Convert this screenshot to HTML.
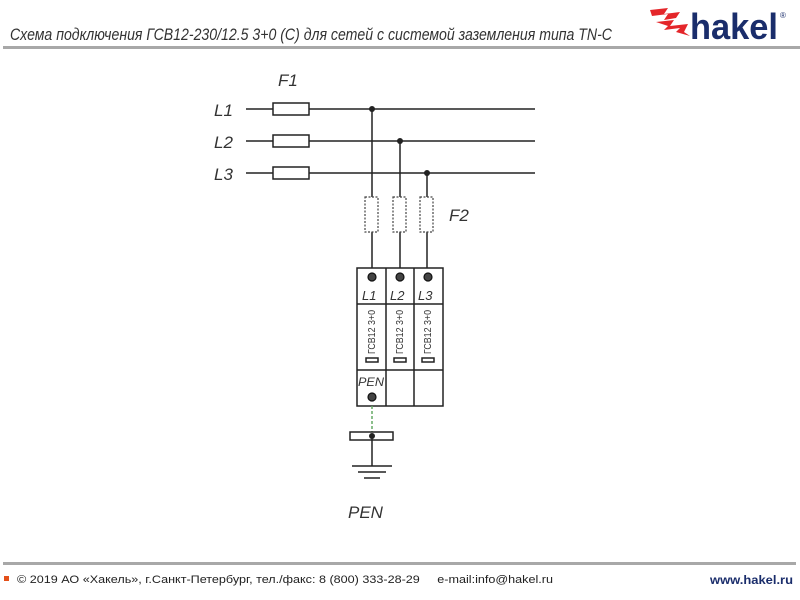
<!DOCTYPE html>
<html><head><meta charset="utf-8"><style>
html,body{margin:0;padding:0;background:#fff;}
svg{display:block;}
.t{font-family:"Liberation Sans","DejaVu Sans",sans-serif;font-style:italic;fill:#333;}
</style></head><body>
<svg width="800" height="600" viewBox="0 0 800 600" xmlns="http://www.w3.org/2000/svg">
<text class="t" x="10" y="40" font-size="17" fill="#444" textLength="602" lengthAdjust="spacingAndGlyphs">Схема подключения ГСВ12-230/12.5 3+0 (С) для сетей с системой заземления типа TN-C</text>
<rect x="3" y="46" width="797" height="3" fill="#a8a8a8"/>
<!-- logo -->
<g fill="#e4262a">
<polygon points="650,10 668,8 664,14 680,12 676,18 664,20 668,14 652,16"/>
<polygon points="656,22 674,20 670,26 688,24 684,32 690,36 676,32 680,28 664,30 668,26"/>
</g>
<text x="690" y="39" font-family="Liberation Sans,sans-serif" font-weight="bold" font-size="36" fill="#1a2d6b" textLength="88" lengthAdjust="spacingAndGlyphs">hakel</text>
<text x="780" y="18" font-family="Liberation Sans,sans-serif" font-size="8" fill="#1a2d6b">®</text>

<g stroke="#222" stroke-width="1.5" fill="none">
<line x1="246" y1="109" x2="535" y2="109"/>
<line x1="246" y1="141" x2="535" y2="141"/>
<line x1="246" y1="173" x2="535" y2="173"/>
<rect x="273" y="103" width="36" height="12" fill="#fff"/>
<rect x="273" y="135" width="36" height="12" fill="#fff"/>
<rect x="273" y="167" width="36" height="12" fill="#fff"/>
<line x1="372" y1="109" x2="372" y2="268"/>
<line x1="400" y1="141" x2="400" y2="268"/>
<line x1="427" y1="173" x2="427" y2="268"/>
</g>
<g fill="#222"><circle cx="372" cy="109" r="3"/><circle cx="400" cy="141" r="3"/><circle cx="427" cy="173" r="3"/></g>
<g stroke="#444" stroke-width="1.2" stroke-dasharray="2,1.5" fill="#fff">
<rect x="365" y="197" width="13" height="35"/>
<rect x="393" y="197" width="13" height="35"/>
<rect x="420" y="197" width="13" height="35"/>
</g>
<g class="t" font-size="17">
<text x="214" y="116">L1</text><text x="214" y="148">L2</text><text x="214" y="180">L3</text>
<text x="278" y="86">F1</text><text x="449" y="221">F2</text>
<text x="348" y="518">PEN</text>
</g>
<!-- device -->
<g stroke="#222" stroke-width="1.5" fill="none">
<rect x="357" y="268" width="86" height="138"/>
<line x1="386" y1="268" x2="386" y2="406"/>
<line x1="414" y1="268" x2="414" y2="406"/>
<line x1="357" y1="304" x2="443" y2="304"/>
<line x1="357" y1="370" x2="443" y2="370"/>
<rect x="366" y="358" width="12" height="4"/>
<rect x="394" y="358" width="12" height="4"/>
<rect x="422" y="358" width="12" height="4"/>
</g>
<g fill="#444" stroke="#111" stroke-width="1.2">
<circle cx="372" cy="277" r="4"/><circle cx="400" cy="277" r="4"/><circle cx="428" cy="277" r="4"/><circle cx="372" cy="397" r="4"/>
</g>
<g class="t" font-size="13">
<text x="362" y="300">L1</text><text x="390" y="300">L2</text><text x="418" y="300">L3</text>
<text x="358" y="386" font-size="12" textLength="26" lengthAdjust="spacingAndGlyphs">PEN</text>
</g>
<g font-family="Liberation Sans,sans-serif" font-size="10" fill="#333">
<text transform="translate(375,354) rotate(-90)" textLength="44" lengthAdjust="spacingAndGlyphs">ГСВ12 3+0</text>
<text transform="translate(403,354) rotate(-90)" textLength="44" lengthAdjust="spacingAndGlyphs">ГСВ12 3+0</text>
<text transform="translate(431,354) rotate(-90)" textLength="44" lengthAdjust="spacingAndGlyphs">ГСВ12 3+0</text>
</g>
<line x1="372" y1="406" x2="372" y2="432" stroke="#6a6" stroke-width="1.5" stroke-dasharray="3,2"/>
<rect x="350" y="432" width="43" height="8" fill="#fff" stroke="#222" stroke-width="1.5"/>
<circle cx="372" cy="436" r="3" fill="#222"/>
<g stroke="#222" stroke-width="1.5">
<line x1="372" y1="436" x2="372" y2="466"/>
<line x1="352" y1="466" x2="392" y2="466"/>
<line x1="358" y1="472" x2="386" y2="472"/>
<line x1="364" y1="478" x2="380" y2="478"/>
</g>
<rect x="3" y="562" width="793" height="3" fill="#a8a8a8"/>
<rect x="4" y="576" width="5" height="5" fill="#e4501a"/>
<text x="17" y="583" font-family="Liberation Sans,sans-serif" font-size="11" fill="#222" textLength="536" lengthAdjust="spacingAndGlyphs">© 2019 АО «Хакель», г.Санкт-Петербург, тел./факс: 8 (800) 333-28-29 &#160;&#160;&#160;&#160;e-mail:info@hakel.ru</text>
<text x="710" y="584" font-family="Liberation Sans,sans-serif" font-size="12" font-weight="bold" fill="#1a2d6b" textLength="83" lengthAdjust="spacingAndGlyphs">www.hakel.ru</text>
</svg>
</body></html>
